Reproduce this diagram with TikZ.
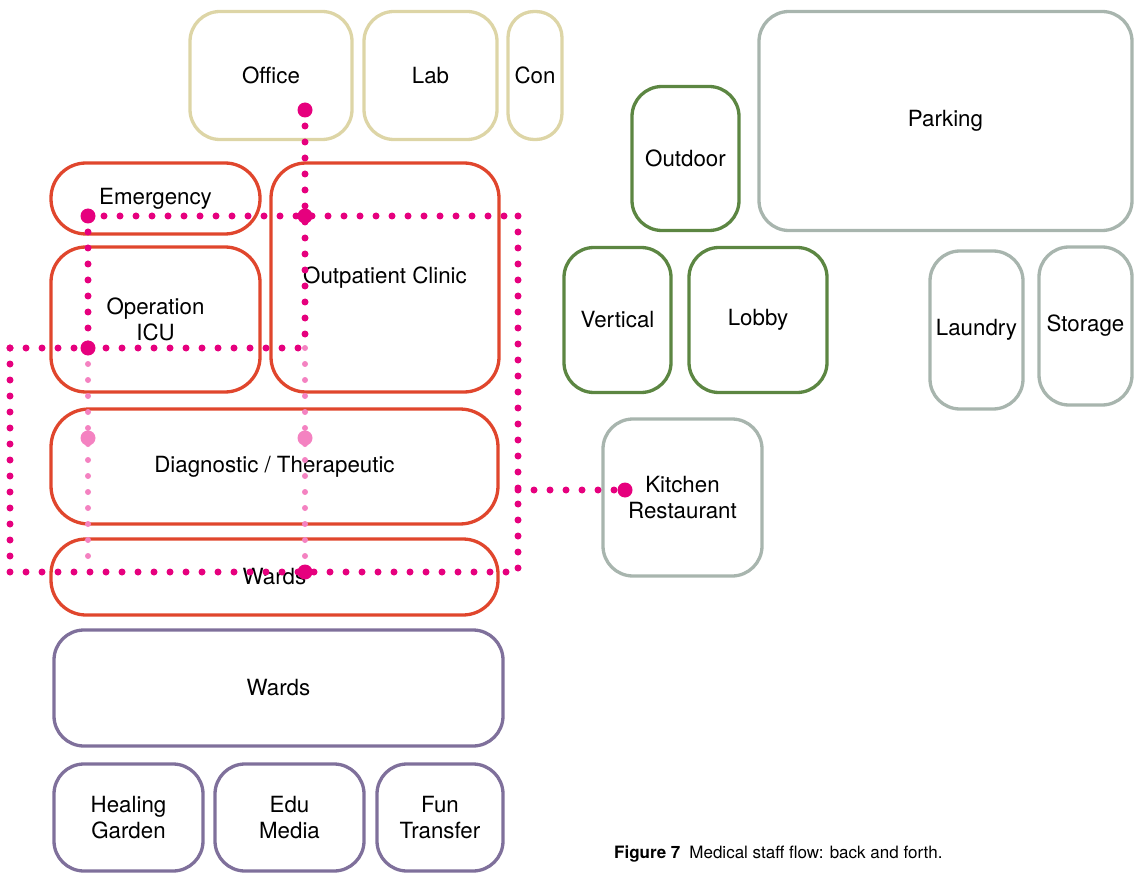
\documentclass[tikz,border=0pt]{standalone}
\usepackage{fontspec}
\setmainfont{TeX Gyre Heros}
\definecolor{beige}{RGB}{221,213,166}
\definecolor{leaf}{RGB}{92,134,66}
\definecolor{sage}{RGB}{168,181,174}
\definecolor{brick}{RGB}{224,70,45}
\definecolor{lilac}{RGB}{127,112,155}
\definecolor{mag}{RGB}{230,0,126}
\definecolor{lightmag}{RGB}{244,130,193}
\begin{document}
\begin{tikzpicture}[x=1pt,y=-1pt,
  box/.style={draw, line width=3.3pt, rounded corners=30pt, align=center,
    font=\fontsize{22.3}{25.5}\selectfont, inner sep=0pt, text=black},
  beigebox/.style={box, draw=beige},
  leafbox/.style={box, draw=leaf},
  sagebox/.style={box, draw=sage},
  brickbox/.style={box, draw=brick, rounded corners=35pt},
  lilacbox/.style={box, draw=lilac},
  flow/.style={draw=mag, line width=7pt, line cap=round, dash pattern=on 0pt off 16pt},
  flowlight/.style={draw=lightmag, line width=6pt, line cap=round, dash pattern=on 0pt off 16pt},
  bigdot/.style={fill=mag, circle, inner sep=0pt, minimum size=15pt},
  lightdot/.style={fill=lightmag, circle, inner sep=0pt, minimum size=15pt}]
\useasboundingbox (0,0) rectangle (1143,877);
% beige
\node[beigebox, minimum width=162pt, minimum height=128pt] (office) at (271,75.5) {Office};
\node[beigebox, minimum width=133pt, minimum height=128pt] (lab) at (430.5,75.5) {Lab};
\node[beigebox, rounded corners=26pt, minimum width=54pt, minimum height=128pt] (con) at (535,75.5) {Con};
% green
\node[leafbox, minimum width=107pt, minimum height=144pt] (outdoor) at (685.5,158.5) {Outdoor};
\node[leafbox, minimum width=107pt, minimum height=145pt] (vertical) at (617.5,320) {Vertical};
\node[leafbox, minimum width=138pt, minimum height=145pt] (lobby) at (758,320) {Lobby};
% sage
\node[sagebox, minimum width=373pt, minimum height=219pt] (parking) at (945.5,121) {Parking};
\node[sagebox, minimum width=93pt, minimum height=158pt] (laundry) at (976.5,330) {Laundry};
\node[sagebox, minimum width=93pt, minimum height=158pt] (storage) at (1085.5,326) {Storage};
\node[sagebox, minimum width=159pt, minimum height=157pt] (kitchen) at (682.5,497.5) {Kitchen\\Restaurant};
% red
\node[brickbox, minimum width=209pt, minimum height=71pt] (emergency) at (155.5,198.5) {Emergency};
\node[brickbox, minimum width=228pt, minimum height=229pt] (outpatient) at (385,277.5) {Outpatient Clinic};
\node[brickbox, minimum width=209pt, minimum height=145pt] (operation) at (155.5,319.5) {Operation\\ICU};
\node[brickbox, rounded corners=38pt, minimum width=447pt, minimum height=115pt] (diagnostic) at (274.5,466.5) {Diagnostic / Therapeutic};
\node[brickbox, minimum width=447pt, minimum height=76pt] (wardsred) at (274.5,577) {Wards};
% purple
\node[lilacbox, minimum width=449pt, minimum height=116pt] (wards) at (278.5,688) {Wards};
\node[lilacbox, minimum width=149pt, minimum height=107pt] (healing) at (128.5,817.5) {Healing\\Garden};
\node[lilacbox, minimum width=149pt, minimum height=107pt] (edu) at (289.5,817.5) {Edu\\Media};
\node[lilacbox, minimum width=126pt, minimum height=107pt] (fun) at (440,817.5) {Fun\\Transfer};
% flow route points
\coordinate (a) at (305,110);
\coordinate (b) at (305,216);
\coordinate (c) at (88,216);
\coordinate (d) at (88,348);
\coordinate (e) at (305,348);
\coordinate (f) at (518,216);
\coordinate (g) at (518,572);
\coordinate (h) at (10,572);
\coordinate (i) at (10,348);
\coordinate (k) at (305,572);
\coordinate (l) at (88,572);
\coordinate (m) at (518,490);
\coordinate (n) at (625,490);
\coordinate (p) at (88,438);
\coordinate (q) at (305,438);
% light (return) flows
\draw[flowlight] (d) -- (l);
\draw[flowlight] (e) -- (k);
% dark flows
\draw[flow] (a) -- (e);
\draw[flow] (c) -- (f);
\draw[flow] (f) -- (g);
\draw[flow] (h) -- (g);
\draw[flow] (i) -- (h);
\draw[flow] (i) -- (e);
\draw[flow] (c) -- (d);
\draw[flow] (m) -- (n);
% junction dots
\node[bigdot] (da) at (a) {};
\node[bigdot] (db) at (b) {};
\node[bigdot] (dc) at (c) {};
\node[bigdot] (dd) at (d) {};
\node[bigdot] (dk) at (k) {};
\node[bigdot] (dn) at (n) {};
\node[lightdot] (dp) at (p) {};
\node[lightdot] (dq) at (q) {};
% caption
\node[anchor=base west, inner sep=0pt, font=\fontsize{17}{20}\selectfont] (caption) at (614,858)
  {\textbf{Figure 7}\hspace{9pt}Medical staff flow: back and forth.};
\end{tikzpicture}
\end{document}
